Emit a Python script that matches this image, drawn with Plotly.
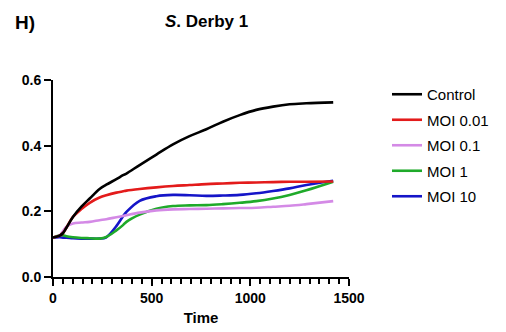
import plotly.graph_objects as go

# Growth curves (OD) over time for S. Derby 1 under different MOI
time = [0, 34, 51, 68, 101, 144, 186, 236, 270, 321, 355, 372, 439, 524, 608, 692, 777,
        861, 946, 1030, 1115, 1199, 1284, 1420]

control = [0.120, 0.126, 0.134, 0.150, 0.183, 0.214, 0.239, 0.268, 0.281, 0.298, 0.310,
           0.315, 0.341, 0.373, 0.404, 0.429, 0.450, 0.473, 0.493, 0.509, 0.519, 0.526,
           0.529, 0.532]
moi_001 = [0.120, 0.126, 0.134, 0.150, 0.183, 0.207, 0.226, 0.242, 0.249, 0.257, 0.261,
           0.263, 0.268, 0.273, 0.277, 0.280, 0.283, 0.285, 0.287, 0.288, 0.289, 0.290,
           0.290, 0.291]
moi_01 = [0.120, 0.127, 0.140, 0.153, 0.163, 0.166, 0.168, 0.173, 0.176, 0.182, 0.186,
          0.188, 0.196, 0.203, 0.206, 0.207, 0.208, 0.209, 0.210, 0.211, 0.214, 0.217,
          0.222, 0.231]
moi_1 = [0.120, 0.127, 0.127, 0.124, 0.121, 0.119, 0.118, 0.117, 0.122, 0.142, 0.158,
         0.168, 0.190, 0.208, 0.216, 0.218, 0.219, 0.222, 0.226, 0.231, 0.239, 0.250,
         0.264, 0.290]
moi_10 = [0.120, 0.121, 0.120, 0.120, 0.118, 0.117, 0.117, 0.117, 0.121, 0.155, 0.185,
          0.198, 0.232, 0.246, 0.250, 0.249, 0.247, 0.248, 0.250, 0.255, 0.262, 0.270,
          0.280, 0.293]

series_names = ["Control", "MOI 0.01", "MOI 0.1", "MOI 1", "MOI 10"]
series_values = [control, moi_001, moi_01, moi_1, moi_10]
series_colors = ["#000000", "#e31b1b", "#d48ae6", "#1faa2a", "#1515c8"]

FONT = "Arial, Liberation Sans, sans-serif"

fig = go.Figure()
# draw in reverse so Control sits on top, keep legend order via legendrank
for i in reversed(range(len(series_names))):
    fig.add_trace(go.Scatter(
        x=time, y=series_values[i], name=series_names[i], mode="lines",
        line=dict(color=series_colors[i], width=2.6, shape="spline", smoothing=1.0),
        legendgroup=series_names[i], legendrank=i + 1,
    ))

axis_common = dict(
    showline=True, linecolor="black", linewidth=2,
    ticks="outside", ticklen=7, tickwidth=2, tickcolor="black",
    showgrid=False, zeroline=False, automargin=False,
    tickfont=dict(family=FONT, size=14, color="black", weight="bold"),
)

fig.update_layout(
    width=506, height=332,
    margin=dict(l=53, r=157, t=80, b=55),
    paper_bgcolor="white", plot_bgcolor="white",
    xaxis=dict(
        range=[0, 1500], tick0=0, dtick=500,
        minor=dict(ticks="outside", tick0=0, dtick=50, ticklen=5, tickwidth=1.8,
                   tickcolor="black", showgrid=False),
        title=dict(text="<b>Time</b>", font=dict(family=FONT, size=15, color="black"),
                   standoff=8),
        **axis_common,
    ),
    yaxis=dict(
        range=[0, 0.6], tick0=0, dtick=0.2, tickformat=".1f",
        **axis_common,
    ),
    legend=dict(
        x=(387 - 53) / 296, xanchor="left", xref="paper",
        y=(277 - 78) / 197, yanchor="top",
        font=dict(family=FONT, size=15, color="black"),
        tracegroupgap=3, bgcolor="rgba(0,0,0,0)",
    ),
    showlegend=True,
)

fig.add_annotation(
    text="<b>H)</b>", xref="paper", yref="paper",
    x=(13 - 53) / 296, y=(277 - 22) / 197, xanchor="left", yanchor="middle",
    showarrow=False, font=dict(family=FONT, size=19, color="black"),
)
fig.add_annotation(
    text="<b><i>S</i>. Derby 1</b>", xref="paper", yref="paper",
    x=(206 - 53) / 296, y=(277 - 21) / 197, xanchor="center", yanchor="middle",
    showarrow=False, font=dict(family=FONT, size=17, color="black"),
)

fig.write_html("out.html")
